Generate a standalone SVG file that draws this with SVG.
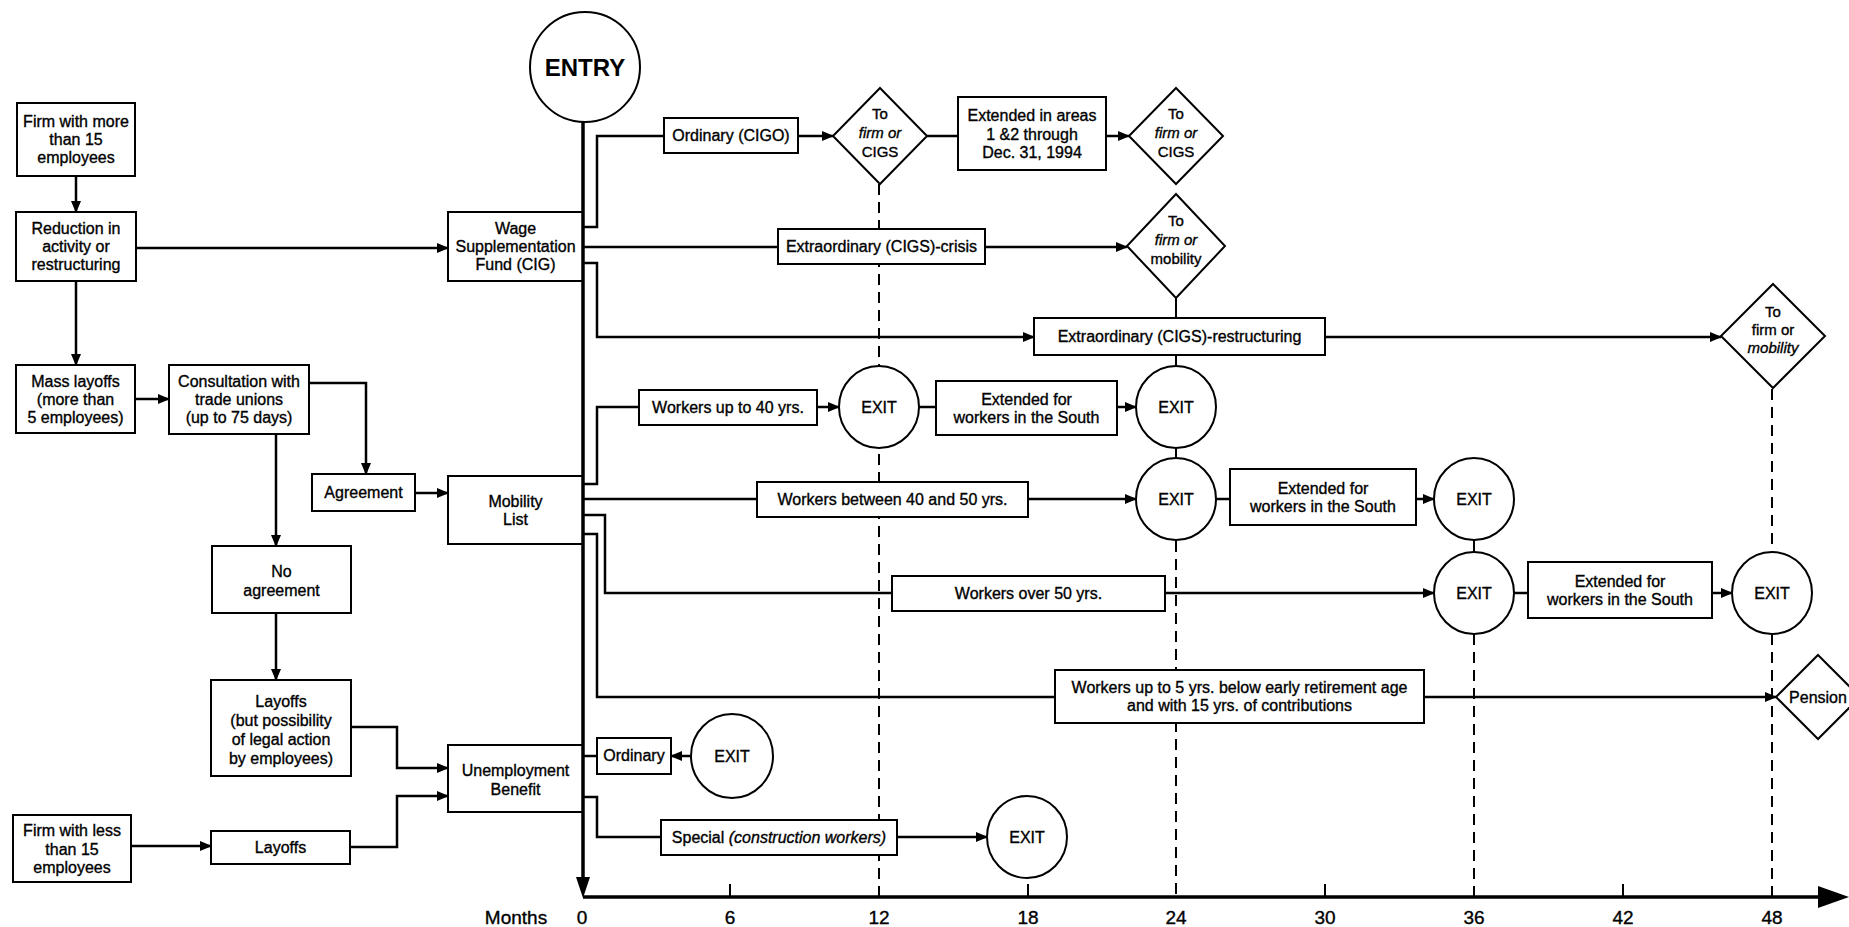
<svg xmlns="http://www.w3.org/2000/svg" width="1849" height="927" viewBox="0 0 1849 927">
<style>
.box{fill:#fff;stroke:#000;stroke-width:2}
.ln{fill:none;stroke:#000;stroke-width:2.5}
.main{fill:none;stroke:#000;stroke-width:3.5}
.dash{fill:none;stroke:#000;stroke-width:2;stroke-dasharray:11 7}
.sol{fill:none;stroke:#000;stroke-width:2}
.t{font-family:"Liberation Sans",Arial,Helvetica,sans-serif;font-size:16px;text-anchor:middle;fill:#000;stroke:#000;stroke-width:0.35}
.d{font-size:15px}
.m{font-size:19px}
.i{font-style:italic}
.b{font-weight:bold;font-size:24px;stroke-width:0}
</style>
<defs>
<marker id="ah" viewBox="0 0 12 10" refX="11" refY="5" markerWidth="12" markerHeight="10" markerUnits="userSpaceOnUse" orient="auto"><path d="M0,0 L12,5 L0,10 z" fill="#000"/></marker>
</defs>
<rect width="1849" height="927" fill="#fff"/>

<g id="timeline-guides">
<path class="dash" d="M879,184 V897"/>
<path class="dash" d="M1176,541 V897"/>
<path class="dash" d="M1474,634 V897"/>
<path class="dash" d="M1772,389 V551 M1772,634 V897"/>
<path class="sol" d="M1176,298 V318 M1176,355 V366 M1176,448 V458 M1474,540 V552"/>
<path class="sol" d="M730,884 V897 M1028,884 V897 M1325,884 V897 M1623,884 V897"/>
</g>

<g id="axis">
<path class="main" d="M583,897 H1820"/>
<polygon points="1818,886 1849,897 1818,908" fill="#000"/>
<text class="t m" x="516" y="924">Months</text>
<text class="t m" x="582" y="924">0</text>
<text class="t m" x="730" y="924">6</text>
<text class="t m" x="879" y="924">12</text>
<text class="t m" x="1028" y="924">18</text>
<text class="t m" x="1176" y="924">24</text>
<text class="t m" x="1325" y="924">30</text>
<text class="t m" x="1474" y="924">36</text>
<text class="t m" x="1623" y="924">42</text>
<text class="t m" x="1772" y="924">48</text>
</g>

<g id="n-entry"><circle cx="585" cy="67" r="55" class="box"/><text class="t b" x="585" y="76">ENTRY</text></g>

<g id="n-firm-more"><rect class="box" x="17" y="103" width="118" height="73"/><text class="t" x="76" y="127">Firm with more</text><text class="t" x="76" y="145">than 15</text><text class="t" x="76" y="163">employees</text></g>
<g id="n-reduction"><rect class="box" x="16" y="212" width="120" height="69"/><text class="t" x="76" y="234">Reduction in</text><text class="t" x="76" y="252">activity or</text><text class="t" x="76" y="270">restructuring</text></g>
<g id="n-mass"><rect class="box" x="16" y="365" width="119" height="68"/><text class="t" x="75.5" y="387">Mass layoffs</text><text class="t" x="75.5" y="405">(more than</text><text class="t" x="75.5" y="423">5 employees)</text></g>
<g id="n-consult"><rect class="box" x="169" y="365" width="140" height="69"/><text class="t" x="239" y="387">Consultation with</text><text class="t" x="239" y="405">trade unions</text><text class="t" x="239" y="423">(up to 75 days)</text></g>
<g id="n-agreement"><rect class="box" x="312" y="474" width="103" height="37"/><text class="t" x="363.5" y="498">Agreement</text></g>
<g id="n-noagree"><rect class="box" x="212" y="546" width="139" height="67"/><text class="t" x="281.5" y="577">No</text><text class="t" x="281.5" y="596">agreement</text></g>
<g id="n-layoffs-but"><rect class="box" x="211" y="680" width="140" height="96"/><text class="t" x="281" y="707">Layoffs</text><text class="t" x="281" y="726">(but possibility</text><text class="t" x="281" y="745">of legal action</text><text class="t" x="281" y="764">by employees)</text></g>
<g id="n-firm-less"><rect class="box" x="13" y="815" width="118" height="67"/><text class="t" x="72" y="836">Firm with less</text><text class="t" x="72" y="855">than 15</text><text class="t" x="72" y="873">employees</text></g>
<g id="n-layoffs"><rect class="box" x="211" y="831" width="139" height="33"/><text class="t" x="280.5" y="853">Layoffs</text></g>
<g id="n-wage"><rect class="box" x="448" y="212" width="135" height="69"/><text class="t" x="515.5" y="234">Wage</text><text class="t" x="515.5" y="252">Supplementation</text><text class="t" x="515.5" y="270">Fund (CIG)</text></g>
<g id="n-mobility"><rect class="box" x="448" y="476" width="135" height="68"/><text class="t" x="515.5" y="507">Mobility</text><text class="t" x="515.5" y="525">List</text></g>
<g id="n-ub"><rect class="box" x="448" y="745" width="135" height="67"/><text class="t" x="515.5" y="776">Unemployment</text><text class="t" x="515.5" y="795">Benefit</text></g>

<g id="n-cigo"><rect class="box" x="664" y="118" width="134" height="35"/><text class="t" x="731" y="141">Ordinary (CIGO)</text></g>
<g id="n-d1"><polygon class="box" points="880,88 927,136 880,184 833,136"/><text class="t d" x="880" y="119">To</text><text class="t d i" x="880" y="138">firm or</text><text class="t d" x="880" y="157">CIGS</text></g>
<g id="n-ext-areas"><rect class="box" x="958" y="97" width="148" height="73"/><text class="t" x="1032" y="121">Extended in areas</text><text class="t" x="1032" y="140">1 &amp;2 through</text><text class="t" x="1032" y="158">Dec. 31, 1994</text></g>
<g id="n-d2"><polygon class="box" points="1176,88 1223,136 1176,184 1129,136"/><text class="t d" x="1176" y="119">To</text><text class="t d i" x="1176" y="138">firm or</text><text class="t d" x="1176" y="157">CIGS</text></g>
<g id="n-crisis"><rect class="box" x="778" y="229" width="207" height="35"/><text class="t" x="881.5" y="252">Extraordinary (CIGS)-crisis</text></g>
<g id="n-d3"><polygon class="box" points="1176,194 1225,246 1176,298 1127,246"/><text class="t d" x="1176" y="226">To</text><text class="t d i" x="1176" y="245">firm or</text><text class="t d" x="1176" y="264">mobility</text></g>
<g id="n-restruct"><rect class="box" x="1034" y="318" width="291" height="37"/><text class="t" x="1179.5" y="342">Extraordinary (CIGS)-restructuring</text></g>
<g id="n-d4"><polygon class="box" points="1773,284 1825,336 1773,388 1721,336"/><text class="t d" x="1773" y="317">To</text><text class="t d" x="1773" y="335">firm or</text><text class="t d i" x="1773" y="353">mobility</text></g>

<g id="n-w40"><rect class="box" x="639" y="390" width="178" height="35"/><text class="t" x="728" y="413">Workers up to 40 yrs.</text></g>
<g id="n-exit-a"><ellipse class="box" cx="879" cy="407" rx="40" ry="41"/><text class="t" x="879" y="413">EXIT</text></g>
<g id="n-ext1"><rect class="box" x="936" y="381" width="181" height="54"/><text class="t" x="1026.5" y="405">Extended for</text><text class="t" x="1026.5" y="423">workers in the South</text></g>
<g id="n-exit-b"><ellipse class="box" cx="1176" cy="407" rx="40" ry="41"/><text class="t" x="1176" y="413">EXIT</text></g>
<g id="n-w4050"><rect class="box" x="757" y="482" width="271" height="35"/><text class="t" x="892.5" y="505">Workers between 40 and 50 yrs.</text></g>
<g id="n-exit-c"><ellipse class="box" cx="1176" cy="499" rx="40" ry="41"/><text class="t" x="1176" y="505">EXIT</text></g>
<g id="n-ext2"><rect class="box" x="1230" y="469" width="186" height="56"/><text class="t" x="1323" y="494">Extended for</text><text class="t" x="1323" y="512">workers in the South</text></g>
<g id="n-exit-d"><ellipse class="box" cx="1474" cy="499" rx="40" ry="41"/><text class="t" x="1474" y="505">EXIT</text></g>
<g id="n-w50"><rect class="box" x="892" y="576" width="273" height="35"/><text class="t" x="1028.5" y="599">Workers over 50 yrs.</text></g>
<g id="n-exit-e"><ellipse class="box" cx="1474" cy="593" rx="40" ry="41"/><text class="t" x="1474" y="599">EXIT</text></g>
<g id="n-ext3"><rect class="box" x="1528" y="562" width="184" height="56"/><text class="t" x="1620" y="587">Extended for</text><text class="t" x="1620" y="605">workers in the South</text></g>
<g id="n-exit-f"><ellipse class="box" cx="1772" cy="593" rx="40" ry="41"/><text class="t" x="1772" y="599">EXIT</text></g>
<g id="n-early"><rect class="box" x="1055" y="670" width="369" height="53"/><text class="t" x="1239.5" y="693">Workers up to 5 yrs. below early retirement age</text><text class="t" x="1239.5" y="711">and with 15 yrs. of contributions</text></g>
<g id="n-pension"><polygon class="box" points="1818,655 1860,697 1818,739 1776,697"/><text class="t" x="1818" y="703">Pension</text></g>
<g id="n-ordinary"><rect class="box" x="597" y="738" width="74" height="36"/><text class="t" x="634" y="761">Ordinary</text></g>
<g id="n-exit-g"><ellipse class="box" cx="732" cy="756" rx="41" ry="42"/><text class="t" x="732" y="762">EXIT</text></g>
<g id="n-special"><rect class="box" x="661" y="820" width="236" height="35"/><text class="t" x="779" y="843">Special <tspan class="i">(construction workers)</tspan></text></g>
<g id="n-exit-h"><ellipse class="box" cx="1027" cy="837" rx="40" ry="41"/><text class="t" x="1027" y="843">EXIT</text></g>

<g id="connectors">
<path class="main" d="M583,122 V880"/>
<polygon points="576,877 590,877 583,898" fill="#000"/>
<path class="ln" d="M76,176 V212" marker-end="url(#ah)"/>
<path class="ln" d="M76,281 V365" marker-end="url(#ah)"/>
<path class="ln" d="M136,248 H448" marker-end="url(#ah)"/>
<path class="ln" d="M135,399 H169" marker-end="url(#ah)"/>
<path class="ln" d="M309,383 H366 V474" marker-end="url(#ah)"/>
<path class="ln" d="M415,493 H448" marker-end="url(#ah)"/>
<path class="ln" d="M276,434 V546" marker-end="url(#ah)"/>
<path class="ln" d="M276,613 V680" marker-end="url(#ah)"/>
<path class="ln" d="M351,727 H397 V768 H448" marker-end="url(#ah)"/>
<path class="ln" d="M131,846 H211" marker-end="url(#ah)"/>
<path class="ln" d="M350,847 H397 V796 H448" marker-end="url(#ah)"/>
<path class="ln" d="M583,227 H597 V136 H664"/>
<path class="ln" d="M798,136 H833" marker-end="url(#ah)"/>
<path class="ln" d="M927,136 H958"/>
<path class="ln" d="M1106,136 H1129" marker-end="url(#ah)"/>
<path class="ln" d="M583,247 H778"/>
<path class="ln" d="M985,247 H1127" marker-end="url(#ah)"/>
<path class="ln" d="M583,263 H597 V337 H1034" marker-end="url(#ah)"/>
<path class="ln" d="M1325,337 H1721" marker-end="url(#ah)"/>
<path class="ln" d="M583,484 H597 V407 H639"/>
<path class="ln" d="M817,407 H839" marker-end="url(#ah)"/>
<path class="ln" d="M919,407 H936"/>
<path class="ln" d="M1117,407 H1136" marker-end="url(#ah)"/>
<path class="ln" d="M583,499 H757"/>
<path class="ln" d="M1028,499 H1136" marker-end="url(#ah)"/>
<path class="ln" d="M1216,499 H1230"/>
<path class="ln" d="M1416,499 H1434" marker-end="url(#ah)"/>
<path class="ln" d="M583,515 H605 V593 H892"/>
<path class="ln" d="M1165,593 H1434" marker-end="url(#ah)"/>
<path class="ln" d="M1514,593 H1528"/>
<path class="ln" d="M1712,593 H1732" marker-end="url(#ah)"/>
<path class="ln" d="M583,534 H597 V697 H1055"/>
<path class="ln" d="M1424,697 H1776" marker-end="url(#ah)"/>
<path class="ln" d="M583,756 H597"/>
<path class="ln" d="M691,756 H671" marker-end="url(#ah)"/>
<path class="ln" d="M583,797 H597 V837 H661"/>
<path class="ln" d="M897,837 H987" marker-end="url(#ah)"/>
</g>
</svg>
